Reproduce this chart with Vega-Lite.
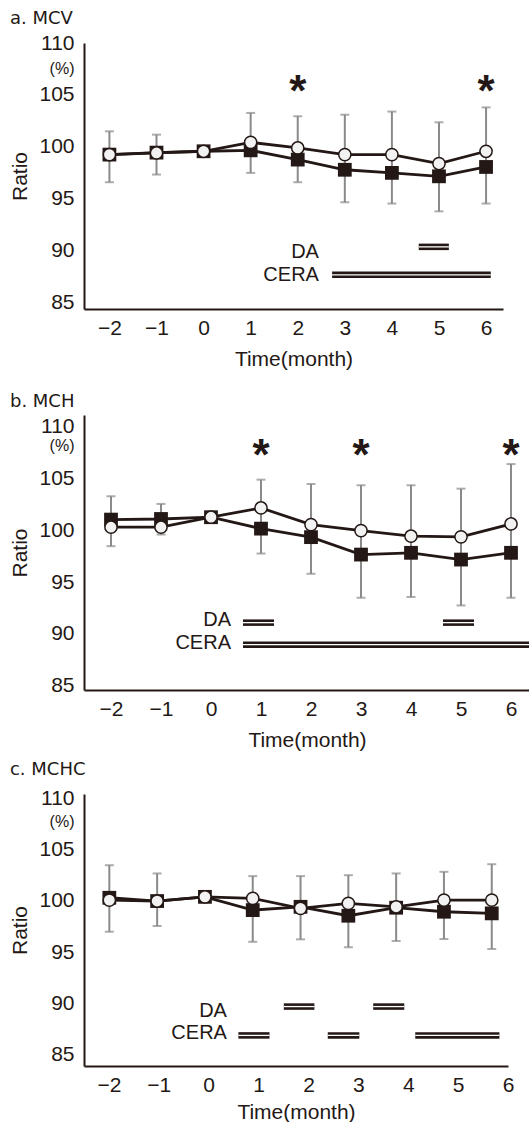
{
  "$schema": "https://vega.github.io/schema/vega-lite/v6.json",
  "background": "white",
  "padding": {"left": 9, "top": 10, "right": 0, "bottom": 0},
  "config": {
    "font": "Liberation Sans",
    "view": {"stroke": null},
    "axis": {"grid": false, "ticks": false, "domainColor": "#231815", "domainWidth": 2, "labelFontSize": 21, "labelColor": "#231815", "titleFontSize": 21, "titleFontWeight": "normal", "titleColor": "#231815", "labelFont": "Liberation Sans", "titleFont": "Liberation Sans", "labelFlush": false, "labelOverlap": false},
    "title": {"fontSize": 18, "fontWeight": "normal", "anchor": "start", "frame": "bounds", "color": "#231815", "font": "DejaVu Sans", "offset": 4}
  },
  "datasets": {
    "a": [
      {"month": -2, "CERA": 99.26, "DA": 99.26, "lower": 96.6, "upper": 101.5},
      {"month": -1, "CERA": 99.45, "DA": 99.42, "lower": 97.34, "upper": 101.18},
      {"month": 0, "CERA": 99.58, "DA": 99.58, "lower": null, "upper": null},
      {"month": 1, "CERA": 99.67, "DA": 100.44, "lower": 97.5, "upper": 103.27},
      {"month": 2, "CERA": 98.78, "DA": 99.9, "lower": 96.6, "upper": 102.95},
      {"month": 3, "CERA": 97.8, "DA": 99.26, "lower": 94.67, "upper": 103.1},
      {"month": 4, "CERA": 97.5, "DA": 99.26, "lower": 94.55, "upper": 103.4},
      {"month": 5, "CERA": 97.17, "DA": 98.4, "lower": 93.8, "upper": 102.37},
      {"month": 6, "CERA": 98.07, "DA": 99.58, "lower": 94.55, "upper": 103.8}
    ],
    "b": [
      {"month": -2, "CERA": 101.02, "DA": 100.29, "lower": 98.46, "upper": 103.27},
      {"month": -1, "CERA": 101.08, "DA": 100.29, "lower": 99.58, "upper": 102.53},
      {"month": 0, "CERA": 101.25, "DA": 101.25, "lower": null, "upper": null},
      {"month": 1, "CERA": 100.15, "DA": 102.14, "lower": 97.75, "upper": 104.87},
      {"month": 2, "CERA": 99.33, "DA": 100.54, "lower": 95.8, "upper": 104.45},
      {"month": 3, "CERA": 97.65, "DA": 99.96, "lower": 93.49, "upper": 104.33},
      {"month": 4, "CERA": 97.82, "DA": 99.42, "lower": 93.56, "upper": 104.33},
      {"month": 5, "CERA": 97.17, "DA": 99.36, "lower": 92.75, "upper": 104.0},
      {"month": 6, "CERA": 97.82, "DA": 100.6, "lower": 93.49, "upper": 106.37}
    ],
    "c": [
      {"month": -2, "CERA": 100.29, "DA": 100.06, "lower": 96.98, "upper": 103.46},
      {"month": -1, "CERA": 99.97, "DA": 99.97, "lower": 97.54, "upper": 102.66},
      {"month": 0, "CERA": 100.38, "DA": 100.38, "lower": null, "upper": null},
      {"month": 1, "CERA": 99.09, "DA": 100.23, "lower": 96.0, "upper": 102.4},
      {"month": 2, "CERA": 99.41, "DA": 99.26, "lower": 96.24, "upper": 102.4},
      {"month": 3, "CERA": 98.54, "DA": 99.74, "lower": 95.47, "upper": 102.49},
      {"month": 4, "CERA": 99.32, "DA": 99.41, "lower": 96.08, "upper": 102.66},
      {"month": 5, "CERA": 98.93, "DA": 100.06, "lower": 96.27, "upper": 102.82},
      {"month": 6, "CERA": 98.77, "DA": 100.06, "lower": 95.3, "upper": 103.56}
    ],
    "a_star": [{"month": 2, "y": 105.2}, {"month": 6, "y": 105.2}],
    "b_star": [{"month": 1, "y": 107.1}, {"month": 3, "y": 107.1}, {"month": 6, "y": 107.1}],
    "a_sig": [
      {"group": "DA", "start": 4.57, "end": 5.21, "y": 90.38},
      {"group": "CERA", "start": 2.73, "end": 6.1, "y": 87.69}
    ],
    "b_sig": [
      {"group": "DA", "start": 0.64, "end": 1.26, "y": 91.09},
      {"group": "DA", "start": 4.64, "end": 5.26, "y": 91.09},
      {"group": "CERA", "start": 0.64, "end": 6.38, "y": 88.97}
    ],
    "c_sig": [
      {"group": "DA", "start": 1.65, "end": 2.29, "y": 89.69},
      {"group": "DA", "start": 3.52, "end": 4.17, "y": 89.69},
      {"group": "CERA", "start": 0.7, "end": 1.35, "y": 86.88},
      {"group": "CERA", "start": 2.57, "end": 3.23, "y": 86.88},
      {"group": "CERA", "start": 4.4, "end": 6.16, "y": 86.88}
    ],
    "a_lab": [{"label": "DA", "x": 2.45, "y": 89.9}, {"label": "CERA", "x": 2.45, "y": 87.69}],
    "b_lab": [{"label": "DA", "x": 0.4, "y": 91.38}, {"label": "CERA", "x": 0.4, "y": 89.16}],
    "c_lab": [{"label": "DA", "x": 0.46, "y": 89.21}, {"label": "CERA", "x": 0.46, "y": 87.11}]
  },
  "spacing": 24,
  "vconcat": [
    {
      "title": {"text": "a. MCV"},
      "width": 419, "height": 266,
      "data": {"name": "a"},
      "encoding": {
        "x": {"field": "month", "type": "quantitative", "scale": {"domain": [-2.54, 6.36], "nice": false, "zero": false},
              "axis": {"values": [-2, -1, 0, 1, 2, 3, 4, 5, 6], "format": "d", "title": "Time(month)", "labelPadding": 8, "titlePadding": 10}}
      },
      "layer": [
        {"mark": {"type": "rule", "color": "#8a8a8a", "strokeWidth": 2},
         "encoding": {"y": {"field": "lower", "type": "quantitative", "scale": {"domain": [84.4, 110], "nice": false, "zero": false},
                            "axis": {"values": [85, 90, 95, 100, 105, 107.5, 110], "labelExpr": "datum.value == 107.5 ? '(%)' : datum.label", "labelFontSize": {"condition": {"test": "datum.value == 107.5", "value": 16}, "value": 21}, "title": "Ratio", "labelPadding": 10, "titlePadding": 8}},
                      "y2": {"field": "upper"}}},
        {"mark": {"type": "tick", "orient": "horizontal", "color": "#8a8a8a", "thickness": 2, "size": 9}, "encoding": {"y": {"field": "lower", "type": "quantitative"}}},
        {"mark": {"type": "tick", "orient": "horizontal", "color": "#8a8a8a", "thickness": 2, "size": 9}, "encoding": {"y": {"field": "upper", "type": "quantitative"}}},
        {"mark": {"type": "line", "color": "#231815", "strokeWidth": 2.8}, "encoding": {"y": {"field": "CERA", "type": "quantitative"}}},
        {"mark": {"type": "point", "shape": "square", "filled": true, "color": "#231815", "size": 190, "opacity": 1}, "encoding": {"y": {"field": "CERA", "type": "quantitative"}}},
        {"mark": {"type": "line", "color": "#231815", "strokeWidth": 2.8}, "encoding": {"y": {"field": "DA", "type": "quantitative"}}},
        {"mark": {"type": "point", "shape": "circle", "filled": true, "fill": "#f2f2f2", "stroke": "#231815", "strokeWidth": 1.5, "size": 150, "opacity": 1}, "encoding": {"y": {"field": "DA", "type": "quantitative"}}},
        {"data": {"name": "a_star"}, "mark": {"type": "text", "text": "*", "fontWeight": "bold", "fontSize": 44, "baseline": "middle", "color": "#231815"}, "encoding": {"y": {"field": "y", "type": "quantitative"}}},
        {"data": {"name": "a_sig"}, "mark": {"type": "rule", "color": "#231815", "strokeWidth": 6.5}, "encoding": {"x": {"field": "start", "type": "quantitative"}, "x2": {"field": "end"}, "y": {"field": "y", "type": "quantitative"}}},
        {"data": {"name": "a_sig"}, "mark": {"type": "rule", "color": "white", "strokeWidth": 1.3}, "encoding": {"x": {"field": "start", "type": "quantitative"}, "x2": {"field": "end"}, "y": {"field": "y", "type": "quantitative"}}},
        {"data": {"name": "a_lab"}, "mark": {"type": "text", "align": "right", "baseline": "middle", "fontSize": 20, "color": "#231815"}, "encoding": {"x": {"field": "x", "type": "quantitative"}, "y": {"field": "y", "type": "quantitative"}, "text": {"field": "label"}}}
      ]
    },
    {
      "spacing": 11,
      "vconcat": [
        {
          "title": {"text": "b. MCH"},
          "width": 446, "height": 275,
          "data": {"name": "b"},
          "encoding": {
            "x": {"field": "month", "type": "quantitative", "scale": {"domain": [-2.54, 6.38], "nice": false, "zero": false},
                  "axis": {"values": [-2, -1, 0, 1, 2, 3, 4, 5, 6], "format": "d", "title": "Time(month)", "labelPadding": 8, "titlePadding": 10}}
          },
          "layer": [
            {"mark": {"type": "rule", "color": "#8a8a8a", "strokeWidth": 2},
             "encoding": {"y": {"field": "lower", "type": "quantitative", "scale": {"domain": [84.6, 111.1], "nice": false, "zero": false},
                                "axis": {"values": [85, 90, 95, 100, 105, 108.2, 110], "labelExpr": "datum.value == 108.2 ? '(%)' : datum.label", "labelFontSize": {"condition": {"test": "datum.value == 108.2", "value": 16}, "value": 21}, "title": "Ratio", "labelPadding": 10, "titlePadding": 8}},
                          "y2": {"field": "upper"}}},
            {"mark": {"type": "tick", "orient": "horizontal", "color": "#8a8a8a", "thickness": 2, "size": 9}, "encoding": {"y": {"field": "lower", "type": "quantitative"}}},
            {"mark": {"type": "tick", "orient": "horizontal", "color": "#8a8a8a", "thickness": 2, "size": 9}, "encoding": {"y": {"field": "upper", "type": "quantitative"}}},
            {"mark": {"type": "line", "color": "#231815", "strokeWidth": 2.8}, "encoding": {"y": {"field": "CERA", "type": "quantitative"}}},
            {"mark": {"type": "point", "shape": "square", "filled": true, "color": "#231815", "size": 190, "opacity": 1}, "encoding": {"y": {"field": "CERA", "type": "quantitative"}}},
            {"mark": {"type": "line", "color": "#231815", "strokeWidth": 2.8}, "encoding": {"y": {"field": "DA", "type": "quantitative"}}},
            {"mark": {"type": "point", "shape": "circle", "filled": true, "fill": "#f2f2f2", "stroke": "#231815", "strokeWidth": 1.5, "size": 150, "opacity": 1}, "encoding": {"y": {"field": "DA", "type": "quantitative"}}},
            {"data": {"name": "b_star"}, "mark": {"type": "text", "text": "*", "fontWeight": "bold", "fontSize": 44, "baseline": "middle", "color": "#231815"}, "encoding": {"y": {"field": "y", "type": "quantitative"}}},
            {"data": {"name": "b_sig"}, "mark": {"type": "rule", "color": "#231815", "strokeWidth": 6.5}, "encoding": {"x": {"field": "start", "type": "quantitative"}, "x2": {"field": "end"}, "y": {"field": "y", "type": "quantitative"}}},
            {"data": {"name": "b_sig"}, "mark": {"type": "rule", "color": "white", "strokeWidth": 1.3}, "encoding": {"x": {"field": "start", "type": "quantitative"}, "x2": {"field": "end"}, "y": {"field": "y", "type": "quantitative"}}},
            {"data": {"name": "b_lab"}, "mark": {"type": "text", "align": "right", "baseline": "middle", "fontSize": 20, "color": "#231815"}, "encoding": {"x": {"field": "x", "type": "quantitative"}, "y": {"field": "y", "type": "quantitative"}, "text": {"field": "label"}}}
          ]
        },
        {
          "title": {"text": "c. MCHC", "offset": 8},
          "width": 424, "height": 272,
          "layer": [
            {
              "data": {"name": "c"},
              "encoding": {
                "x": {"field": "month", "type": "quantitative", "scale": {"domain": [-2.53, 6.34], "nice": false, "zero": false}, "axis": null}
              },
              "layer": [
                {"mark": {"type": "rule", "color": "#8a8a8a", "strokeWidth": 2},
                 "encoding": {"y": {"field": "lower", "type": "quantitative", "scale": {"domain": [83.9, 110.4], "nice": false, "zero": false},
                                    "axis": {"values": [85, 90, 95, 100, 105, 107.7, 110], "labelExpr": "datum.value == 107.7 ? '(%)' : datum.label", "labelFontSize": {"condition": {"test": "datum.value == 107.7", "value": 16}, "value": 21}, "title": "Ratio", "labelPadding": 10, "titlePadding": 8}},
                              "y2": {"field": "upper"}}},
                {"mark": {"type": "tick", "orient": "horizontal", "color": "#8a8a8a", "thickness": 2, "size": 9}, "encoding": {"y": {"field": "lower", "type": "quantitative"}}},
                {"mark": {"type": "tick", "orient": "horizontal", "color": "#8a8a8a", "thickness": 2, "size": 9}, "encoding": {"y": {"field": "upper", "type": "quantitative"}}},
                {"mark": {"type": "line", "color": "#231815", "strokeWidth": 2.8}, "encoding": {"y": {"field": "CERA", "type": "quantitative"}}},
                {"mark": {"type": "point", "shape": "square", "filled": true, "color": "#231815", "size": 190, "opacity": 1}, "encoding": {"y": {"field": "CERA", "type": "quantitative"}}},
                {"mark": {"type": "line", "color": "#231815", "strokeWidth": 2.8}, "encoding": {"y": {"field": "DA", "type": "quantitative"}}},
                {"mark": {"type": "point", "shape": "circle", "filled": true, "fill": "#f2f2f2", "stroke": "#231815", "strokeWidth": 1.5, "size": 150, "opacity": 1}, "encoding": {"y": {"field": "DA", "type": "quantitative"}}},
                {"data": {"name": "c_sig"}, "mark": {"type": "rule", "color": "#231815", "strokeWidth": 6.5}, "encoding": {"x": {"field": "start", "type": "quantitative", "axis": null}, "x2": {"field": "end"}, "y": {"field": "y", "type": "quantitative"}}},
                {"data": {"name": "c_sig"}, "mark": {"type": "rule", "color": "white", "strokeWidth": 1.3}, "encoding": {"x": {"field": "start", "type": "quantitative", "axis": null}, "x2": {"field": "end"}, "y": {"field": "y", "type": "quantitative"}}},
                {"data": {"name": "c_lab"}, "mark": {"type": "text", "align": "right", "baseline": "middle", "fontSize": 20, "color": "#231815"}, "encoding": {"x": {"field": "x", "type": "quantitative", "axis": null}, "y": {"field": "y", "type": "quantitative"}, "text": {"field": "label"}}}
              ]
            },
            {
              "data": {"name": "c"},
              "mark": {"type": "point", "opacity": 0},
              "encoding": {
                "x": {"field": "month", "type": "quantitative", "scale": {"domain": [-2.5, 6.0], "nice": false, "zero": false},
                      "axis": {"orient": "bottom", "values": [-2, -1, 0, 1, 2, 3, 4, 5, 6], "format": "d", "title": "Time(month)", "labelPadding": 8, "titlePadding": 6}},
                "y": {"field": "DA", "type": "quantitative"}
              }
            }
          ],
          "resolve": {"scale": {"x": "independent"}}
        }
      ]
    }
  ]
}
